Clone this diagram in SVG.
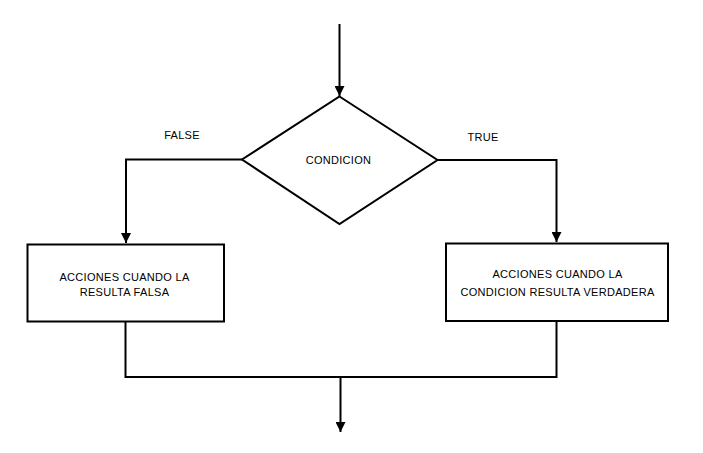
<svg xmlns="http://www.w3.org/2000/svg" width="703" height="453" viewBox="0 0 703 453">
<style>
.ln{fill:none;stroke:#000;stroke-width:2}
.shape{fill:#fff;stroke:#000;stroke-width:2}
text{font-family:"Liberation Sans",Arial,sans-serif;font-size:11px;fill:#000;text-anchor:middle;letter-spacing:0.3px}
</style>
<defs>
<marker id="arr" viewBox="0 0 10 10" refX="10" refY="5" markerWidth="5" markerHeight="5" orient="auto" markerUnits="strokeWidth">
<path d="M0,0 L10,5 L0,10 Z" fill="#000"/>
</marker>
</defs>
<rect width="703" height="453" fill="#fff"/>
<g id="connectors">
<path class="ln" d="M339.5,24 V96" marker-end="url(#arr)"/>
<path class="ln" d="M242,159.5 H126 V243" marker-end="url(#arr)"/>
<path class="ln" d="M437,160 H556.5 V242" marker-end="url(#arr)"/>
<path class="ln" d="M125.5,322 V377 H556.5 V321"/>
<path class="ln" d="M340.5,377 V432" marker-end="url(#arr)"/>
<text x="182" y="139">FALSE</text>
<text x="483" y="141">TRUE</text>
</g>
<g id="condicion">
<polygon class="shape" points="339.5,96.5 437.5,160 339.5,224 242,159.5"/>
<text x="338.5" y="164">CONDICION</text>
</g>
<g id="accion-falsa">
<rect class="shape" x="27.5" y="244.5" width="196.5" height="77"/>
<text x="124.5" y="281">ACCIONES CUANDO LA</text>
<text x="124.5" y="296">RESULTA FALSA</text>
</g>
<g id="accion-verdadera">
<rect class="shape" x="446" y="243.5" width="222" height="77.5"/>
<text x="557.5" y="278">ACCIONES CUANDO LA</text>
<text x="557.5" y="296" letter-spacing="0.55">CONDICION RESULTA VERDADERA</text>
</g>
</svg>
